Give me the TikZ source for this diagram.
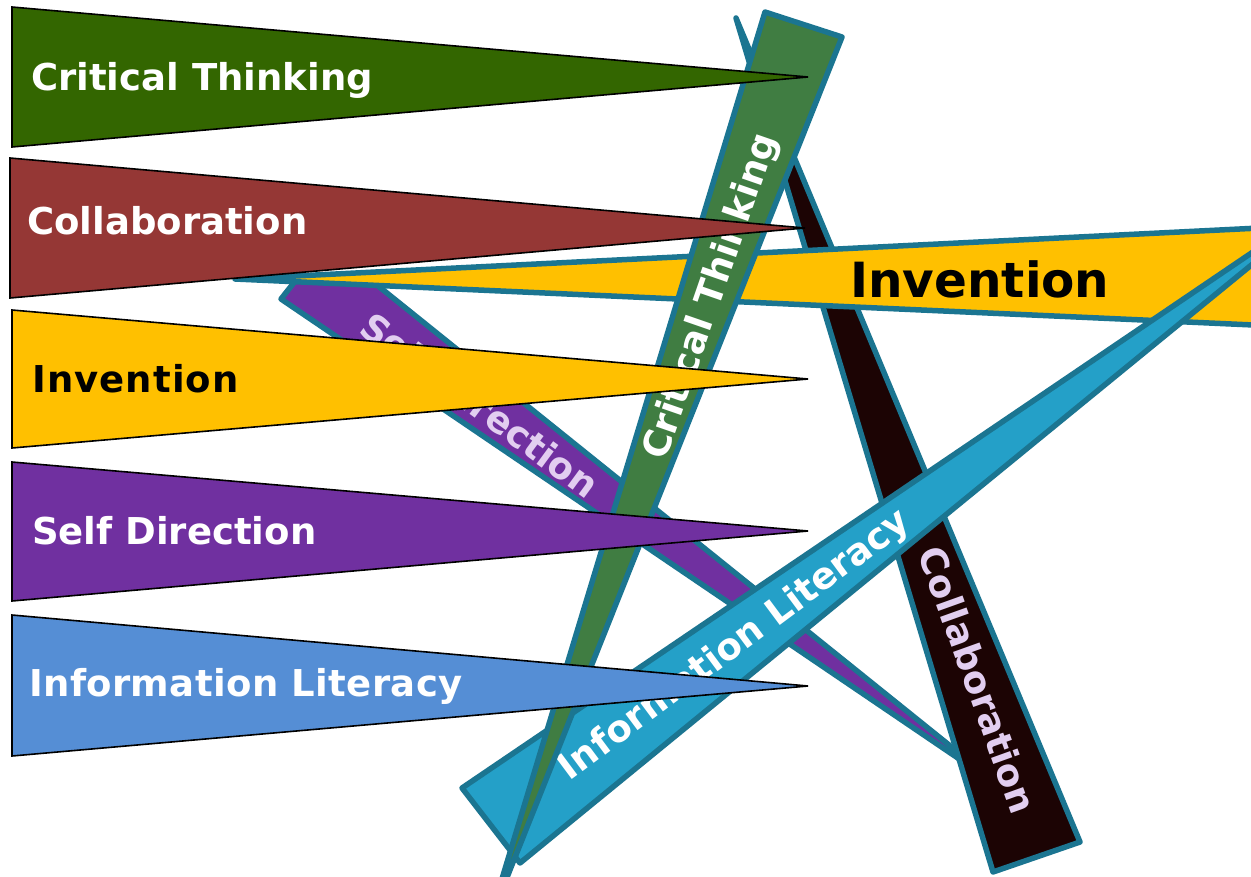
\documentclass[tikz,border=0pt]{standalone}
\usepackage{fontspec}
\setmainfont{DejaVu Sans}
\definecolor{edge}{RGB}{27,117,145}
\definecolor{ctG}{RGB}{51,102,0}
\definecolor{colR}{RGB}{149,55,53}
\definecolor{invY}{RGB}{255,192,0}
\definecolor{sdP}{RGB}{112,48,160}
\definecolor{ilB}{RGB}{85,142,213}
\definecolor{barG}{RGB}{64,125,66}
\definecolor{barD}{RGB}{28,4,4}
\definecolor{barB}{RGB}{36,160,200}
\definecolor{lav}{RGB}{226,206,240}
\begin{document}
\begin{tikzpicture}[x=1pt,y=-1pt,
  bar/.style={draw=edge, line width=5.5pt, line join=round},
  flag/.style={draw=black, line width=1.6pt, line join=miter},
  lbl/.style={font=\bfseries\fontsize{37}{40}\selectfont, inner sep=0pt, anchor=base west},
  btxt/.style={font=\bfseries\fontsize{37}{40}\selectfont, inner sep=0pt}]
\clip (0,0) rectangle (1251,876);
\fill[white] (0,0) rectangle (1251,876);
% Self Direction bar
\path[bar, fill=sdP] (281,299) -- (296,280) -- (372,281) -- (1005,790) -- cycle;
\node[btxt, text=lav, rotate=-36.3] (sdtext) at (480,405) {Self Direction};
% Collaboration bar
\path[bar, fill=barD] (736,18) -- (1080,842) -- (993,872) -- cycle;
\node[btxt, text=lav, rotate=-70.3] (coltext) at (978,680) {Collaboration};
% Invention bar
\path[bar, fill=invY] (235,279) -- (1320,225) -- (1320,328) -- cycle;
\node[font=\bfseries\fontsize{48.5}{50}\selectfont, inner sep=0pt, anchor=base west] (invtext) at (850,297) {Invention};
% Information Literacy bar
\path[bar, fill=barB] (462,788) -- (1337,195) -- (520,863) -- cycle;
\node[btxt, text=white, rotate=36.7] (iltext) at (735,646) {Information Literacy};
% Critical Thinking bar
\path[bar, fill=barG] (765,12) -- (842,37) -- (488,925) -- cycle;
\node[btxt, text=white, rotate=70.9] (cttext) at (712,297) {Critical Thinking};
% flags
\path[flag, fill=ctG] (12,7) -- (808,77) -- (12,147) -- cycle;
\node[lbl, text=white] (f1) at (31,90) {Critical Thinking};
\path[flag, fill=colR] (10,158) -- (805,228) -- (10,298) -- cycle;
\node[lbl, text=white] (f2) at (27,234) {Collaboration};
\path[flag, fill=invY] (12,310) -- (808,379) -- (12,448) -- cycle;
\node[lbl, text=black, font=\bfseries\fontsize{37}{40}\selectfont\addfontfeatures{LetterSpace=3}] (f3) at (32,392) {Invention};
\path[flag, fill=sdP] (12,462) -- (808,531) -- (12,601) -- cycle;
\node[lbl, text=white] (f4) at (32,544) {Self Direction};
\path[flag, fill=ilB] (12,615) -- (808,686) -- (12,756) -- cycle;
\node[lbl, text=white, font=\bfseries\fontsize{37}{40}\selectfont\addfontfeatures{LetterSpace=1}] (f5) at (29,696) {Information Literacy};
\end{tikzpicture}
\end{document}
